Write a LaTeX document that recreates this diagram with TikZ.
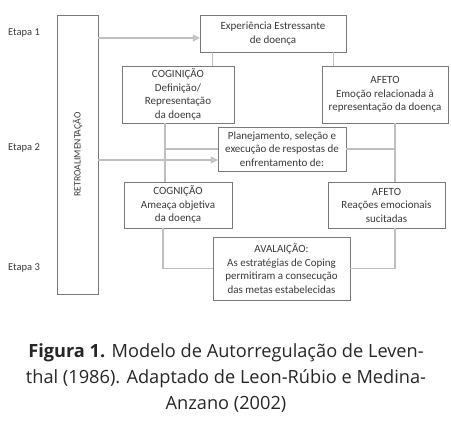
\documentclass[tikz,border=0pt]{standalone}
\usepackage{fontspec}
\setmainfont{Carlito}
\newfontfamily\capfont{Open Sans}
\usetikzlibrary{arrows.meta,positioning,calc}
\definecolor{lrline}{HTML}{BFBFBF}
\definecolor{lrbox}{HTML}{7A7A7A}
\definecolor{lrtext}{HTML}{3A3A3A}
\definecolor{lrcap}{HTML}{262626}
\tikzset{
  box/.style={draw=lrbox,fill=white,align=center,inner xsep=2pt,inner ysep=1pt,
              text=lrtext,font=\fontsize{11}{13.5}\selectfont},
  etapa/.style={text=lrtext,font=\fontsize{10.5}{12}\selectfont,inner sep=0pt},
  ln/.style={draw=lrline,line width=1.1pt},
  ar/.style={ln,-{Triangle[length=7pt,width=7pt,fill=lrline!80]}},
  capt/.style={text=lrcap,align=center,font=\capfont\fontsize{18.2}{26}\selectfont},
}
\begin{document}
\begin{tikzpicture}[x=1pt,y=1pt]
    \useasboundingbox (0,0) rectangle (451,-422);
    \node[etapa] (e1) at (24,-33) {Etapa 1};
    \node[etapa] (e2) at (24,-148) {Etapa 2};
    \node[etapa] (e3) at (24,-268) {Etapa 3};
    \node[box,minimum width=41pt,minimum height=279pt] (retro) at (77.5,-154.5)
      {\rotatebox{90}{\fontsize{9.7}{11}\selectfont RETROALIMENTAÇÃO}};
    \node[box,minimum width=146pt,minimum height=37pt] (exp) at (273,-33.5)
      {Experiência Estressante\\de doença};
    \node[box,minimum width=112pt,minimum height=57pt] (cog1) at (178,-94.5)
      {COGINIÇÃO\\Definição/\\Representação\\da doença};
    \node[box,minimum width=126pt,minimum height=57pt] (af1) at (385,-94.5)
      {AFETO\\Emoção relacionada à\\representação da doença};
    \node[box,minimum width=128pt,minimum height=44pt] (plan) at (282,-149)
      {Planejamento, seleção e\\execução de respostas de\\enfrentamento de:};
    \node[box,minimum width=108pt,minimum height=46pt] (cog2) at (178,-205)
      {COGNIÇÃO\\Ameaça objetiva\\da doença};
    \node[box,minimum width=117pt,minimum height=46pt] (af2) at (386.5,-205)
      {AFETO\\Reações emocionais\\sucitadas};
    \node[box,minimum width=137pt,minimum height=63pt] (aval) at (281.5,-268.5)
      {AVALAIÇÃO:\\As estratégias de Coping\\permitiram a consecução\\das metas estabelecidas};
    \coordinate (xa) at ([xshift=13pt]exp.south west);
    \coordinate (xb) at ([xshift=-13pt]exp.south east);
    \coordinate (xc) at ([xshift=-13pt]cog1.south);
    \coordinate (xd) at ([xshift=10pt]af1.south);
    \coordinate (ya) at ([yshift=-4.5pt]exp.west);
    \coordinate (yb) at ([yshift=-11pt]plan.west);
    \draw[ln](xa)--(xa|-cog1.north);\draw[ln](xb)--(xb|-af1.north);
    \draw[ln](xc)--(xc|-cog2.north);\draw[ln](xd)--(xd|-af2.north);
    \draw[ln](plan.west)--(plan.west-|xc);\draw[ln](plan.east)--(plan.east-|xd);
    \draw[ln]([xshift=-15pt]cog2.south)|-(aval.west);
    \draw[ln]([xshift=8.5pt]af2.south)|-(aval.east);
    \draw[ar](ya-|retro.east)--(ya);
    \draw[ar](yb-|retro.east)--(yb);
    \node[capt] (fig) at (226,-378)
      {\textbf{Figura 1.} Modelo de Autorregulação de Leven-\\thal (1986). Adaptado de Leon-Rúbio e Medina-\\Anzano (2002)};
  \end{tikzpicture}
\end{document}
